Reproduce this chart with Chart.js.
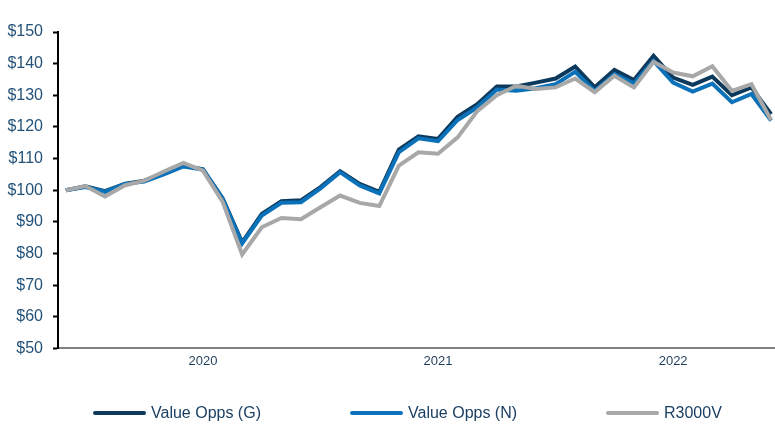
<!DOCTYPE html>
<html>
<head>
<meta charset="utf-8">
<script src="https://cdn.jsdelivr.net/npm/chart.js@4"></script>
<style>
    body { margin: 0; background: #fff; font-family: "Liberation Sans", Arial, sans-serif; }
    #wrap { position: relative; width: 775px; height: 438px; }
    .item { position: absolute; top: 403px; height: 20px; display: flex; align-items: center; font-size: 16px; color: #1b3f63; }
    .item span.sw { display: inline-block; width: 53px; height: 4px; border-radius: 2px; margin-right: 5px; }
</style>
</head>
<body>
<div id="wrap">
    <canvas id="ValueChart" width="775" height="438"></canvas>
    <div id="legend"></div>
</div>
<script>
const months = [
    "2019-06", "2019-07", "2019-08", "2019-09", "2019-10", "2019-11", "2019-12",
    "2020-01", "2020-02", "2020-03", "2020-04", "2020-05", "2020-06", "2020-07", "2020-08", "2020-09", "2020-10", "2020-11", "2020-12",
    "2021-01", "2021-02", "2021-03", "2021-04", "2021-05", "2021-06", "2021-07", "2021-08", "2021-09", "2021-10", "2021-11", "2021-12",
    "2022-01", "2022-02", "2022-03", "2022-04", "2022-05", "2022-06"
];
const yearTicks = ["2020", "2021", "2022"];

const valueOppsG = [100, 101.2, 99.7, 102, 103, 105.3, 107.8, 106.6, 97.5, 83.5, 92.5, 96.5, 96.8, 101, 106, 102, 99.5,
    112.8, 117, 116.2, 123.2, 127.2, 132.8, 132.8, 134, 135.3, 139.1, 132.5, 138, 134.8, 142.5, 135.6, 133.3, 135.9, 130, 132.5, 124];
const valueOppsN = [100, 101, 99.5, 102, 102.7, 105, 107.5, 106.5, 97.3, 83.2, 92, 96, 96.2, 100.6, 105.7, 101.5, 99,
    112, 116.4, 115.5, 122.2, 126.2, 131.8, 131.4, 132.2, 133.5, 137.4, 131.4, 136.7, 133.8, 140.9, 134, 131.2, 133.7, 127.8, 130.4, 122];
const r3000v = [100, 101.3, 98, 101.5, 103, 105.9, 108.6, 106.2, 96.4, 79.7, 88.3, 91.2, 90.8, 94.6, 98.3, 96, 95,
    107.8, 112, 111.5, 116.7, 125, 130, 133, 132, 132.5, 135.3, 131, 136.2, 132.5, 140.6, 137.2, 136, 139.2, 131.4, 133.5, 122.2];

const yearIdx = yearTicks.map(y => months.indexOf(y + "-01"));

function points(values) {
    return values.map((v, i) => ({ x: i, y: v }));
}

function ValueChart() {
    const ctx = document.getElementById("ValueChart");

    const series = [
        { label: "Value Opps (G)", data: valueOppsG, color: "#0d3a5c", order: 3 },
        { label: "Value Opps (N)", data: valueOppsN, color: "#0b72b9", order: 2 },
        { label: "R3000V", data: r3000v, color: "#a8a8a8", order: 1 },
    ];

    new Chart(ctx, {
        type: "line",
        data: {
            datasets: series.map(s => ({
                label: s.label,
                data: points(s.data),
                borderColor: s.color,
                backgroundColor: s.color,
                borderWidth: 4,
                pointRadius: 0,
                fill: false,
                tension: 0,
                order: s.order,
            })),
        },
        options: {
            responsive: false,
            animation: false,
            layout: {
                padding: { top: 32, right: 0, left: 0, bottom: 64 },
            },
            plugins: {
                legend: { display: false },
                tooltip: { enabled: false },
            },
            scales: {
                x: {
                    type: "linear",
                    min: -0.4,
                    max: 36.2,
                    afterBuildTicks: (scale) => {
                        scale.ticks = yearIdx.map(v => ({ value: v }));
                    },
                    grid: { display: true, drawOnChartArea: false, drawTicks: false },
                    border: { color: "#808080", width: 2 },
                    ticks: {
                        autoSkip: false,
                        maxRotation: 0,
                        padding: 5,
                        color: "#1f3d5c",
                        font: { family: "Liberation Sans", size: 13 },
                        callback: (v) => yearTicks[yearIdx.indexOf(v)] || "",
                    },
                },
                y: {
                    min: 50,
                    max: 150,
                    afterFit: (scale) => { scale.width = 58; },
                    grid: { drawOnChartArea: false, drawTicks: true, tickLength: 5, tickColor: "#000", tickWidth: 2 },
                    border: { color: "#000", width: 2 },
                    ticks: {
                        stepSize: 10,
                        padding: 10,
                        color: "#235178",
                        font: { family: "Liberation Sans", size: 16 },
                        callback: (v) => "$" + v,
                    },
                },
            },
        },
    });

    // legend below the chart
    const legend = document.getElementById("legend");
    const lefts = [93, 350, 606];
    series.forEach((s, i) => {
        const item = document.createElement("div");
        item.className = "item";
        item.style.left = lefts[i] + "px";
        item.innerHTML = `<span class="sw" style="background:${s.color}"></span>${s.label}`;
        legend.appendChild(item);
    });
}

ValueChart();
</script>
</body>
</html>
